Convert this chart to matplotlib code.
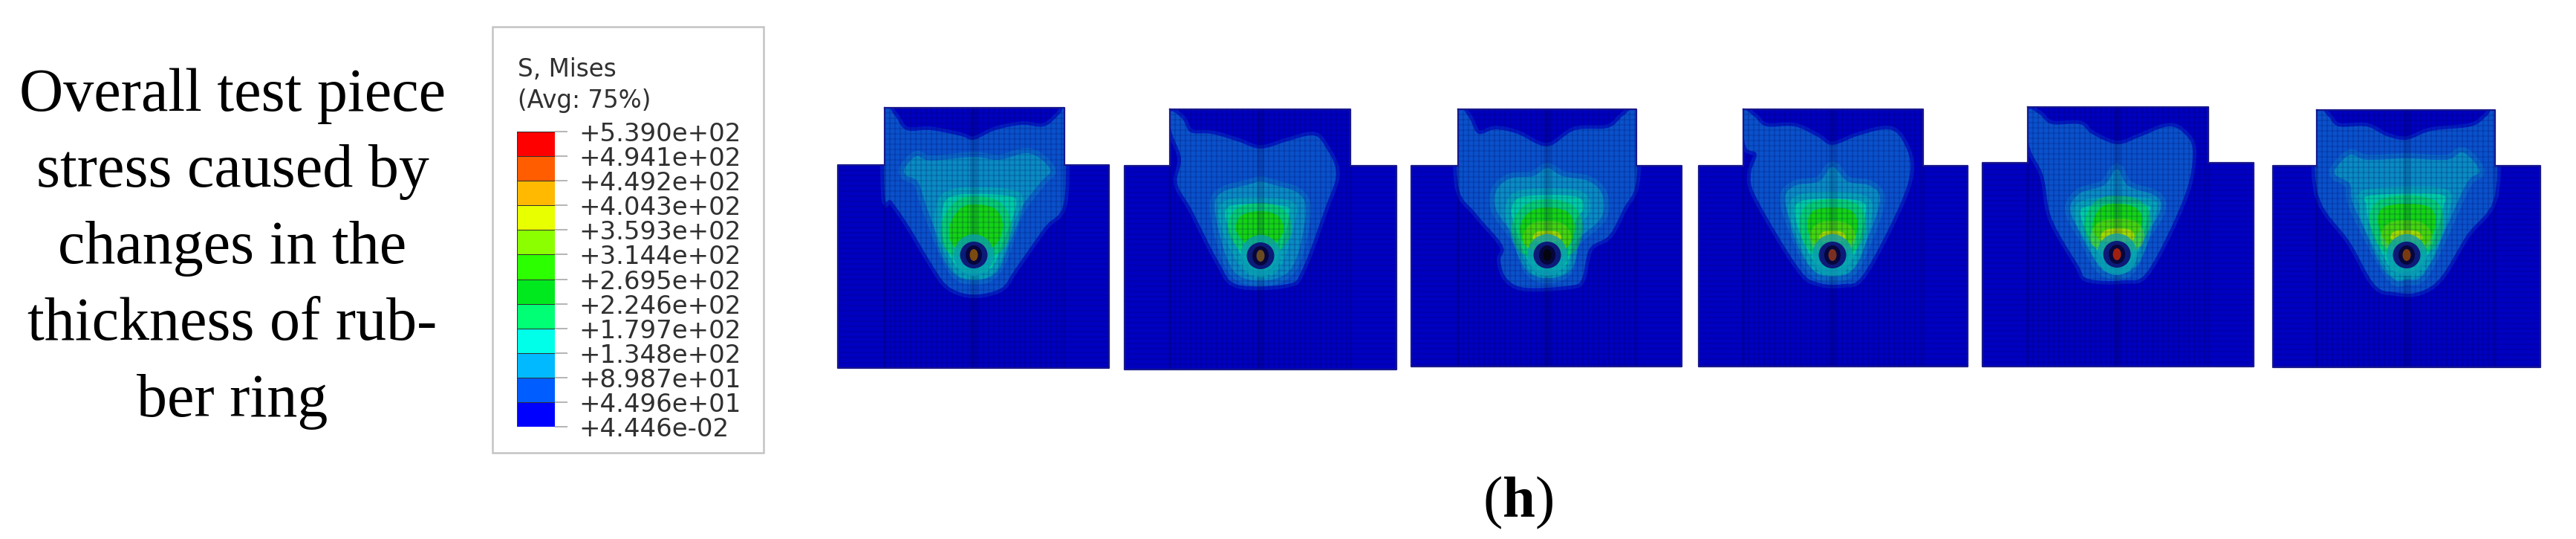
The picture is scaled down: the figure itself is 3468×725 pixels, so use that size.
import numpy as np
import matplotlib
matplotlib.use("Agg")
import matplotlib.pyplot as plt
from matplotlib.colors import ListedColormap, BoundaryNorm
from matplotlib.patches import Ellipse, Polygon, Rectangle

W, H = 3468, 725

# left caption
CAPTION = ["Overall test piece", "stress caused by", "changes in the", "thickness of rub-", "ber ring"]
CAPTION_BASE = [149, 251, 354, 457, 560]

# legend
LEGEND_TITLE = ["S, Mises", "(Avg: 75%)"]
LEVELS = [0.04446, 44.96, 89.87, 134.8, 179.7, 224.6, 269.5, 314.4, 359.3, 404.3, 449.2, 494.1, 539.0]
LEVEL_LABELS = ["+4.446e-02", "+4.496e+01", "+8.987e+01", "+1.348e+02", "+1.797e+02", "+2.246e+02", "+2.695e+02",
                "+3.144e+02", "+3.593e+02", "+4.043e+02", "+4.492e+02", "+4.941e+02", "+5.390e+02"]
BAND_COLORS = ["#0000ff", "#005dff", "#00b9ff", "#00ffe8", "#00ff75", "#00e81e", "#2cff00", "#8bff00",
               "#e8ff00", "#ffb900", "#ff5d00", "#ff0000"]

# specimen outlines, reference pixels
BODY_L = [1128, 1514, 1900, 2287, 2669, 3060]
BODY_R = [1493, 1880, 2264, 2649, 3034, 3420]
HEAD_L = [1191, 1575, 1963, 2347, 2730, 3119]
HEAD_R = [1433, 1818, 2203, 2589, 2973, 3359]
TOP_Y = [145, 147, 147, 147, 144, 148]
SHOULDER_Y = [222, 223, 223, 223, 219, 223]
BOTTOM_Y = [495, 497, 493, 493, 493, 494]
HOLE_X = [1311, 1697, 2083, 2467, 2850, 3240]
HOLE_Y = [343, 344, 343, 343, 342, 343]
HOLE_CORE = ["#7a4a10", "#6a4a20", "#050510", "#7a3020", "#a02010", "#7a3a10"]

# contour outlines, (dx, dy) from the hole
P1_A = [(-120,-195),(-106,-187),(-91,-168),(-58,-168),(-17,-160),(0,-155),(29,-168),(65,-175),(95,-173),(116,-190),(122,-195),
        (122,-73),(95,-37),(55,20),(39,43),(14,52),(-12,52),(-37,40),(-58,10),(-88,-40),(-111,-73),(-120,-80)]
P1_B = [(-93,-117),(-77,-133),(-58,-127),(0,-132),(34,-128),(75,-137),(103,-115),(90,-98),(60,-57),(39,3),(19,30),(-17,30),
        (-37,3),(-63,-63),(-75,-98),(-91,-107)]
P1_C = [(-27,-80),(44,-80),(57,-67),(39,-17),(24,17),(0,25),(-22,17),(-40,-17),(-43,-57)]
P1_D = [(-19,-62),(0,-68),(29,-62),(39,-37),(24,-10),(-24,-10),(-33,-37)]
P1_E = []

P2_A = [(-121,-194),(-105,-184),(-94,-166),(-66,-164),(-31,-154),(0,-144),(36,-154),(71,-162),(87,-147),(102,-111),(87,-64),
        (56,19),(36,38),(-31,39),(-56,9),(-92,-61),(-112,-97),(-107,-131),(-120,-167)]
P2_B = [(0,-100),(15,-96),(51,-84),(61,-57),(46,9),(20,31),(-20,31),(-43,9),(-61,-57),(-54,-84),(-15,-96)]
P2_C = [(-41,-67),(31,-67),(38,-50),(20,9),(0,21),(-20,9),(-43,-37)]
P2_D = [(-26,-54),(0,-60),(23,-54),(31,-34),(15,-14),(-15,-14),(-33,-34)]
P2_E = []

P3_A = [(-120,-193),(-106,-186),(-93,-163),(-70,-169),(-40,-163),(0,-146),(37,-168),(82,-171),(103,-188),(120,-193),(120,-99),
        (103,-63),(83,-26),(57,-9),(47,31),(32,41),(-30,44),(-55,31),(-63,7),(-60,-13),(-96,-56),(-120,-93)]
P3_B = [(0,-117),(21,-106),(57,-99),(75,-79),(72,-49),(37,-16),(27,21),(1,31),(-24,21),(-40,-19),(-68,-59),(-69,-86),(-50,-103),(-19,-106)]
P3_C = [(-30,-79),(37,-79),(49,-63),(37,-43),(27,11),(0,22),(-24,11),(-45,-43),(-47,-66)]
P3_D = [(-24,-58),(0,-64),(27,-58),(37,-36),(24,-9),(-24,-9),(-37,-36)]
P3_E = [(-14,-31),(14,-31),(16,-19),(-17,-19)]

P4_A = [(-120,-193),(-105,-186),(-89,-173),(-51,-173),(-20,-159),(0,-148),(36,-161),(77,-169),(97,-149),(105,-113),(87,-59),
        (41,27),(15,39),(-20,37),(-46,17),(-102,-76),(-110,-109),(-102,-136),(-117,-146)]
P4_B = [(0,-119),(20,-99),(51,-93),(64,-73),(46,-19),(26,21),(0,29),(-26,21),(-46,-19),(-64,-73),(-51,-93),(-18,-99)]
P4_C = [(-41,-73),(36,-73),(43,-49),(26,7),(0,19),(-26,7),(-49,-46)]
P4_D = [(-28,-58),(0,-64),(28,-58),(33,-33),(18,-11),(-18,-11),(-33,-33)]
P4_E = [(-13,-31),(13,-31),(15,-19),(-15,-19)]

P5_A = [(-120,-193),(-104,-188),(-88,-175),(-50,-175),(-34,-162),(0,-148),(31,-158),(69,-172),(91,-162),(102,-138),(91,-78),
        (42,22),(10,35),(-39,33),(-52,15),(-88,-48),(-99,-105),(-118,-145)]
P5_B = [(0,-115),(15,-92),(53,-78),(58,-58),(37,-22),(20,18),(0,27),(-23,18),(-42,-18),(-63,-58),(-50,-82),(-17,-93)]
P5_C = [(-39,-65),(37,-67),(42,-52),(23,5),(0,17),(-20,5),(-47,-45)]
P5_D = [(-23,-62),(0,-68),(26,-62),(34,-42),(15,-15),(-17,-15),(-33,-35)]
P5_E = [(-15,-33),(18,-33),(20,-18),(-20,-18)]

P6_A = [(-120,-192),(-106,-187),(-92,-173),(-54,-173),(-27,-160),(0,-155),(33,-167),(87,-173),(108,-187),(119,-193),(119,-80),
        (81,-27),(46,30),(16,50),(-16,50),(-43,40),(-76,-17),(-120,-83)]
P6_B = [(-95,-117),(-76,-135),(-54,-128),(0,-130),(54,-128),(76,-138),(98,-113),(81,-97),(49,-27),(22,27),(0,33),(-22,27),(-70,-63),(-76,-95),(-95,-107)]
P6_C = [(-49,-80),(43,-82),(49,-63),(33,-10),(16,17),(0,23),(-22,17),(-49,-40),(-54,-67)]
P6_D = [(-33,-63),(0,-69),(33,-63),(38,-37),(22,-13),(-22,-13),(-38,-40)]
P6_E = [(-16,-32),(14,-32),(19,-20),(-19,-20)]

PANEL_BANDS = [(P1_A, P1_B, P1_C, P1_D, P1_E), (P2_A, P2_B, P2_C, P2_D, P2_E), (P3_A, P3_B, P3_C, P3_D, P3_E),
               (P4_A, P4_B, P4_C, P4_D, P4_E), (P5_A, P5_B, P5_C, P5_D, P5_E), (P6_A, P6_B, P6_C, P6_D, P6_E)]
CONTOUR_COLORS = ["#0a52cc", "#0a8cc4", "#00cca8", "#14d414", "#a0dc00"]
BODY_COLOR = "#0000c0"


def smooth(points, n=5):
    # catmull-rom through the read points, closed outline
    pts = np.array(points, dtype=float)
    out = []
    m = len(pts)
    for j in range(m):
        p0, p1, p2, p3 = pts[j - 1], pts[j], pts[(j + 1) % m], pts[(j + 2) % m]
        for t in np.linspace(0, 1, n, endpoint=False):
            out.append(0.5 * (2 * p1 + (p2 - p0) * t + (2 * p0 - 5 * p1 + 4 * p2 - p3) * t ** 2
                              + (3 * p1 - p0 - 3 * p2 + p3) * t ** 3))
    return np.array(out)


plt.rcParams["font.family"] = ["Liberation Serif", "DejaVu Serif"]
plt.rcParams["mathtext.fontset"] = "custom"
plt.rcParams["mathtext.rm"] = "Liberation Serif"
plt.rcParams["mathtext.bf"] = "Liberation Serif:bold"

fig = plt.figure(figsize=(W / 100, H / 100), dpi=100, facecolor="white")
ax = fig.add_axes([0, 0, 1, 1])
ax.set_xlim(0, W)
ax.set_ylim(H, 0)
ax.axis("off")

for line, y in zip(CAPTION, CAPTION_BASE):
    ax.text(313, y, line, fontsize=59, ha="center", va="baseline", color="black")
ax.text(2044, 695, r"($\mathbf{h}$)", fontsize=57, ha="center", va="baseline", color="black")

# legend box
ax.add_patch(Rectangle((663, 36), 365, 573, fc="white", ec="#c4c4c4", lw=1.8))
for line, y in zip(LEGEND_TITLE, [103, 145]):
    ax.text(697, y, line, fontsize=23.5, family="DejaVu Sans", color="#303030", va="baseline")

cax = fig.add_axes([696 / W, 1 - 574 / H, 51 / W, 397 / H])
cax.pcolormesh([0, 1], LEVELS, np.zeros((12, 1)) + np.arange(12).reshape(-1, 1),
               cmap=ListedColormap(BAND_COLORS), norm=BoundaryNorm(np.arange(-0.5, 12.5), 12),
               edgecolors="#303030", linewidth=0.5)
cax.set_ylim(LEVELS[0], LEVELS[-1])
cax.set_xticks([])
cax.yaxis.tick_right()
cax.set_yticks(LEVELS, LEVEL_LABELS, family="DejaVu Sans", fontsize=24.5, color="#303030")
cax.tick_params(axis="y", length=12.5, width=1.2, color="#a8a8a8", pad=11)
for s in cax.spines.values():
    s.set_visible(False)

# specimens
for i, bands in enumerate(PANEL_BANDS):
    bl, br, hl, hr = BODY_L[i], BODY_R[i], HEAD_L[i], HEAD_R[i]
    top, sh, bot = TOP_Y[i], SHOULDER_Y[i], BOTTOM_Y[i]
    hx, hy = HOLE_X[i], HOLE_Y[i]
    outline = [(hl, top), (hr, top), (hr, sh), (br, sh), (br, bot), (bl, bot), (bl, sh), (hl, sh)]
    ax.add_patch(Polygon(outline, closed=True, fc=BODY_COLOR, ec="none", zorder=1))
    clip = Polygon(outline, closed=True, transform=ax.transData)

    for k, band in enumerate(bands):
        if not band:
            continue
        pts = smooth(band) + [hx, hy]
        # soft rim, the source image is blurred
        rim = ax.fill(pts[:, 0], pts[:, 1], fc="none", ec=CONTOUR_COLORS[k], lw=7 + 3 * k, alpha=0.35, zorder=2 + k)[0]
        p = ax.fill(pts[:, 0], pts[:, 1], fc=CONTOUR_COLORS[k], ec="none", zorder=2 + k)[0]
        rim.set_clip_path(clip)
        p.set_clip_path(clip)

    # mesh
    xs = np.arange(hl, hr + 1, 7)
    ys = np.arange(top, bot + 1, 7)
    v = ax.vlines(xs, top, bot, color="#000050", lw=1.6, alpha=0.17, zorder=8)
    h = ax.hlines(ys, bl, br, color="#000050", lw=1.6, alpha=0.13, zorder=8)
    v.set_clip_path(clip)
    h.set_clip_path(clip)
    ax.vlines([hl, hr], sh, bot, color="#000070", lw=3, alpha=0.2, zorder=8)
    ax.vlines([hx], top, bot, color="#000040", lw=7, alpha=0.16, zorder=8)

    # hole
    ax.add_patch(Ellipse((hx, hy), 54, 56, fc="#0a9cb4", ec="none", alpha=0.75, zorder=9))
    ax.add_patch(Ellipse((hx, hy), 37, 36, fc="#0c1a78", ec="none", zorder=10))
    ax.add_patch(Ellipse((hx, hy), 22, 26, fc="#06063c", ec="none", zorder=10))
    ax.add_patch(Ellipse((hx, hy), 11, 16, fc=HOLE_CORE[i], ec="none", zorder=11))

    ax.plot([hl, hr, hr, br, br, bl, bl, hl, hl], [top, top, sh, sh, bot, bot, sh, sh, top],
            color="#18188c", lw=1.6, zorder=12)

fig.savefig("out.png", dpi=100, facecolor="white")
